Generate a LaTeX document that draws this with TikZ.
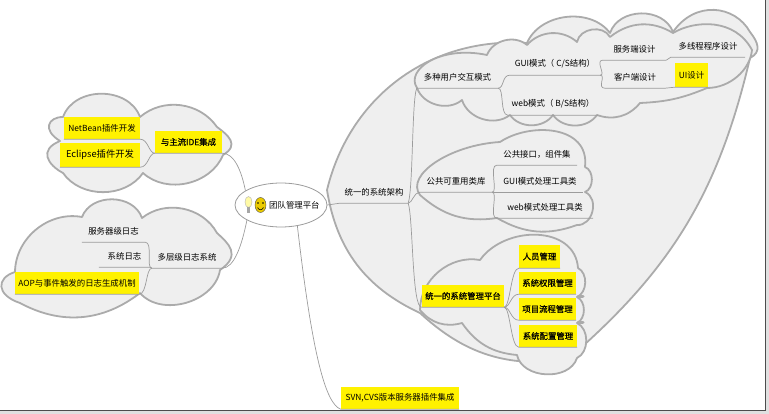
\documentclass[tikz,border=0pt]{standalone}
\usepackage{fontspec}
\usetikzlibrary{shapes.geometric}
\setmainfont{Noto Sans CJK SC}
\newfontfamily\heavyfont[FakeBold=0.6]{Noto Sans CJK SC}
\definecolor{cloudfill}{HTML}{EFEFEF}
\definecolor{cloudedge}{HTML}{ABABAB}
\definecolor{branchline}{HTML}{9C9C9C}
\definecolor{smileface}{HTML}{EBCB00}
\tikzset{
  cloudpart/.style={draw=cloudedge,fill=cloudfill,line width=1.8pt,line join=round},
  branch/.style={draw=branchline,line width=0.7pt},
  topic/.style={inner sep=0pt,minimum height=22pt,font=\fontsize{8.4}{10}\selectfont},
  marked/.style={topic,fill=yellow},
  markedbold/.style={marked,font=\heavyfont\fontsize{8.4}{10}\selectfont},
  lobe/.style={bend left=55},
  tiplobe/.style={bend left=70,looseness=1.1},
}
\begin{document}
\begin{tikzpicture}[x=1pt,y=-1pt]
  \useasboundingbox (0,0) rectangle (769,414);
  % clouds
  \draw[cloudpart] (327,190) to[bend left=40] (527,43) to[bend left=60] (610,33) to[tiplobe] (673,32)
    .. controls (695,0) and (735,5) .. (750,32) .. controls (758,42) and (762,52) .. (750,58)
    to[bend left=18] (567,360) to[bend left=25] (420,313) to[bend left=28] cycle;
  \draw[cloudpart] (417,88) .. controls (405,70) and (440,45) .. (487,55) to[lobe] (527,45) to[bend left=45] (577,42)
    to[tiplobe] (610,37) to[bend left=35] (673,33) .. controls (695,20) and (735,18) .. (752,50)
    .. controls (750,70) and (730,88) .. (707,88) to[bend left=10] (640,103) to[bend left=35] (597,115)
    to[lobe] (553,115) to[lobe] (510,115) to[lobe] (462,100) to[lobe] cycle;
  \draw[cloudpart] (420,195) .. controls (405,175) and (450,145) .. (500,142) .. controls (530,122) and (590,125) .. (585,167)
    to[bend left=70] (585,192) to[bend left=80,looseness=1.2] (577,225) to[bend left=25] (497,218)
    to[bend left=25] cycle;
  \draw[cloudpart] (420,310) to[bend left=50] (480,260) .. controls (505,225) and (575,225) .. (578,268)
    to[bend left=65] (577,297) to[bend left=65] (577,323) to[bend left=65] (577,358)
    to[bend left=75,looseness=1.05] (517,355) to[bend left=25] (462,323) to[bend left=33] cycle;
  \draw[cloudedge,line width=3pt,line cap=round] (578,297) -- (583,297) (578,323) -- (583,323);
  \draw[cloudpart] (60,141) .. controls (42,130) and (48,117) .. (63,117) to[tiplobe] (140,117) to[bend left=48] (217,127)
    .. controls (228,135) and (240,145) .. (223,155) to[lobe] (143,173) to[lobe] (63,173)
    .. controls (48,165) and (38,150) .. cycle;
  \draw[cloudpart] (15,272) to[bend left=50] (82,217) to[tiplobe] (142,218) to[bend left=50] (217,233)
    .. controls (228,243) and (242,255) .. (220,270) to[bend left=65] (140,293) to[bend left=33] (20,303)
    .. controls (-4,295) and (-4,278) .. cycle;
  % center
  \node[draw=branchline,fill=white,ellipse,line width=0.8pt,minimum width=92pt,minimum height=44pt,inner sep=0pt] (hub) at (281,205) {};
  \node[topic,minimum width=48pt,anchor=west] (title) at (269,205) {团队管理平台};
  \node[ellipse,draw=black!70,fill=smileface,minimum width=11pt,minimum height=15pt,inner sep=0pt] (smiley) at (260.5,205) {};
  \fill (258,203) circle (0.9) (263,203) circle (0.9);
  \draw[line width=0.6pt] (257.5,207.5) .. controls (259,210.5) and (262,210.5) .. (263.5,207.5);
  \node[ellipse,fill=yellow!35,draw=gray!60,minimum width=7pt,minimum height=11pt,inner sep=0pt] (bulb) at (248.5,202) {};
  \fill[gray!70] (247,207.5) rectangle (250,213);
  % left side
  \node[markedbold,minimum width=67pt] (ide) at (188.5,142) {与主流IDE集成};
  \node[marked,minimum width=76pt] (netbean) at (102,128) {NetBean插件开发};
  \node[marked,minimum width=80pt,minimum height=24pt,font=\fontsize{9.3}{11}\selectfont] (eclipse) at (100,155) {Eclipse插件开发};
  \node[topic,minimum width=70pt] (logs) at (187,257) {多层级日志系统};
  \node[topic,minimum width=63pt] (serverlog) at (113.5,231) {服务器级日志};
  \node[topic,minimum width=51pt] (syslog) at (124.5,256) {系统日志};
  \node[marked,minimum width=124pt] (aop) at (77,283) {AOP与事件触发的日志生成机制};
  % right side
  \node[topic,minimum width=68pt] (arch) at (374,192) {统一的系统架构};
  \node[topic,minimum width=81pt] (multi) at (457.5,77) {多种用户交互模式};
  \node[topic,minimum width=90pt] (gui) at (555,64) {GUI模式（ C/S结构）};
  \node[topic,minimum width=90pt] (web) at (553,104) {web模式（ B/S结构）};
  \node[topic,minimum width=63pt] (server) at (634.5,49) {服务端设计};
  \node[topic,minimum width=60pt] (client) at (635,77) {客户端设计};
  \node[topic,minimum width=74pt] (thread) at (708,46) {多线程程序设计};
  \node[marked,minimum width=33pt,minimum height=24pt] (uidesign) at (691.5,75) {UI设计};
  \node[topic,minimum width=72pt] (common) at (456,181) {公共可重用类库};
  \node[topic,minimum width=80pt] (iface) at (537,154) {公共接口，组件集};
  \node[topic,minimum width=86pt] (guitool) at (540,181) {GUI模式处理工具类};
  \node[topic,minimum width=96pt] (webtool) at (545,207) {web模式处理工具类};
  \node[markedbold,minimum width=82pt] (admin) at (463,296) {统一的系统管理平台};
  \node[markedbold,minimum width=41pt,minimum height=23pt] (people) at (539.5,256.5) {人员管理};
  \node[markedbold,minimum width=57pt] (rights) at (547.5,283) {系统权限管理};
  \node[markedbold,minimum width=57pt] (flow) at (547.5,309) {项目流程管理};
  \node[markedbold,minimum width=58pt] (config) at (548,336) {系统配置管理};
  \node[marked,minimum width=118pt] (svn) at (400,398) {SVN,CVS版本服务器插件集成};
  % connectors
  \draw[branch] (hub.158) .. controls +(-4,-20) and +(12,0) .. (ide.south east) -- (ide.south west);
  \draw[branch] (ide.south west) .. controls +(-6,0) and +(8,0) .. (netbean.south east) -- (netbean.south west);
  \draw[branch] (ide.south west) .. controls +(-6,0) and +(8,0) .. (eclipse.south east) -- (eclipse.south west);
  \draw[branch] (hub.204) .. controls +(-5,25) and +(12,0) .. (logs.south east) -- (logs.south west);
  \draw[branch] (logs.south west) .. controls +(-6,0) and +(8,0) .. (serverlog.south east) -- (serverlog.south west);
  \draw[branch] (logs.south west) -- (syslog.south east) -- (syslog.south west);
  \draw[branch] (logs.south west) .. controls +(-6,0) and +(8,0) .. (aop.south east) -- (aop.south west);
  \draw[branch] (hub.east) -- (arch.south west) -- (arch.south east);
  \draw[branch] (arch.south east) .. controls +(5,-15) and +(-5,10) .. (multi.south west) -- (multi.south east);
  \draw[branch] (arch.south east) .. controls +(4,0) and +(-6,0) .. (common.south west) -- (common.south east);
  \draw[branch] (arch.south east) .. controls +(5,15) and +(-10,2) .. (admin.south west) -- (admin.south east);
  \draw[branch] (multi.south east) .. controls +(6,0) and +(-8,0) .. (gui.south west) -- (gui.south east);
  \draw[branch] (multi.south east) .. controls +(6,0) and +(-8,0) .. (web.south west) -- (web.south east);
  \draw[branch] (gui.south east) .. controls +(6,0) and +(-8,0) .. (server.south west) -- (server.south east);
  \draw[branch] (gui.south east) .. controls +(6,0) and +(-8,0) .. (client.south west) -- (client.south east);
  \draw[branch] (server.south east) -- (thread.south west) -- (thread.south east);
  \draw[branch] (client.south east) -- (uidesign.south west) -- (uidesign.south east);
  \draw[branch] (common.south east) .. controls +(6,0) and +(-8,0) .. (iface.south west) -- (iface.south east);
  \draw[branch] (common.south east) -- (guitool.south east);
  \draw[branch] (common.south east) .. controls +(6,0) and +(-8,0) .. (webtool.south west) -- (webtool.south east);
  \draw[branch] (admin.south east) .. controls +(6,0) and +(-8,0) .. (people.south west) -- (people.south east);
  \draw[branch] (admin.south east) .. controls +(6,0) and +(-8,0) .. (rights.south west) -- (rights.south east);
  \draw[branch] (admin.south east) .. controls +(6,0) and +(-8,0) .. (flow.south west) -- (flow.south east);
  \draw[branch] (admin.south east) .. controls +(6,0) and +(-8,0) .. (config.south west) -- (config.south east);
  \draw[branch] (hub.308) .. controls +(15,130) and +(-15,-5) .. (svn.south west) -- (svn.south east);
  % frame
  \draw[black!70,line width=1.2pt] (0,410.5) -- (765.5,410.5) -- (765.5,0);
  \fill[black!12] (0,411.2) rectangle (769,414) (766.2,0) rectangle (769,414);
\end{tikzpicture}
\end{document}
